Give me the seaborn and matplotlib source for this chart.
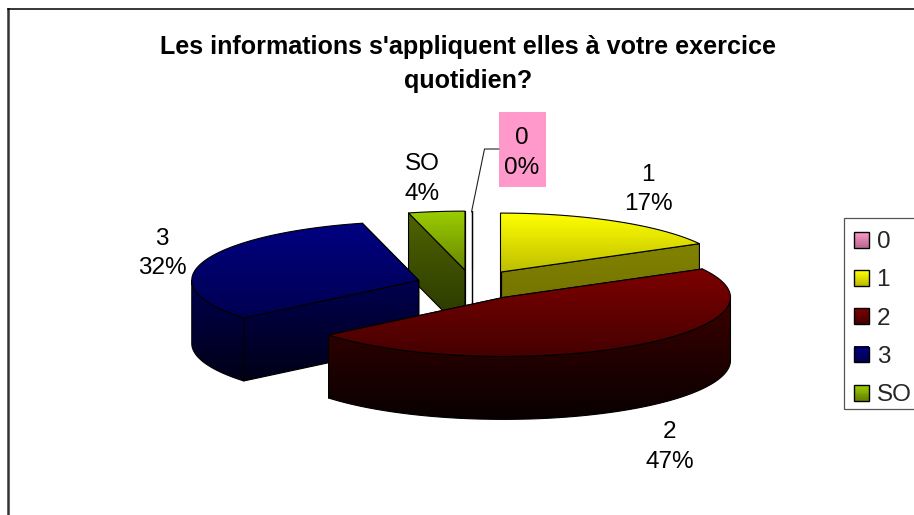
import numpy as np
import matplotlib
matplotlib.use("Agg")
import matplotlib.pyplot as plt
import seaborn as sns
from matplotlib.patches import Polygon, Rectangle
from matplotlib.legend_handler import HandlerBase

# ---- data ----
categories = ["0", "1", "2", "3", "SO"]
percents = [0, 17, 47, 32, 4]
title = "Les informations s'appliquent elles à votre exercice\nquotidien?"

# ---- style ----
top_colors = {"0": ((255, 153, 204), (190, 110, 150)), "1": ((255, 255, 0), (190, 190, 0)),
              "2": ((125, 0, 0), (70, 0, 0)), "3": ((0, 0, 130), (0, 0, 80)),
              "SO": ((155, 205, 0), (105, 135, 0))}
side_colors = {"0": ((120, 70, 95), (60, 35, 48)), "1": ((130, 130, 0), (108, 108, 0)),
               "2": ((60, 0, 0), (8, 0, 0)), "3": ((0, 0, 80), (0, 0, 22)),
               "SO": ((80, 100, 0), (38, 52, 0))}
label_xy = {"0": (522, 153), "1": (648, 189.5), "2": (670, 447), "3": (162, 253.5), "SO": (422, 179)}
draw_order = ["SO", "0", "1", "3", "2"]

# ---- layout, in figure pixels ----
W, H = 914, 515
CX, CY, RX, RY, DEPTH = 472, 285, 227, 59, 63
EX, EY = 56, 15
EDGE = 0.8

sns.set_theme(style="white", palette=sns.color_palette([np.array(top_colors[c][0]) / 255 for c in categories]))
plt.rcParams["font.family"] = ["Liberation Sans", "DejaVu Sans"]

fig = plt.figure(figsize=(W / 100, H / 100), dpi=100, facecolor="white")
L, T = 8, 9
ax = fig.add_axes([L / W, 0, (W - L) / W, (H - T) / H])
ax.set_xlim(L, W)
ax.set_ylim(H, T)
ax.set_xticks([])
ax.set_yticks([])
sns.despine(ax=ax, right=True, bottom=True, top=False, left=False)
ax.spines["top"].set(color="black", linewidth=1.1)
ax.spines["left"].set(color="#333333", linewidth=1.8)


def gradient_fill(points, colors, z):
    pts = np.asarray(points, float)
    x0, x1 = pts[:, 0].min(), pts[:, 0].max()
    y0, y1 = pts[:, 1].min(), pts[:, 1].max()
    a, b = np.array(colors[0]) / 255, np.array(colors[1]) / 255
    t = np.linspace(0, 1, 128)[:, None, None]
    img = a[None, None, :] * (1 - t) + b[None, None, :] * t
    if x1 - x0 > 0.01:
        im = ax.imshow(img, extent=(x0, x1, y1, y0), aspect="auto", zorder=z, interpolation="bilinear")
        clip = Polygon(pts, closed=True, transform=ax.transData)
        im.set_clip_path(clip)
    ax.add_patch(Polygon(pts, closed=True, fill=False, edgecolor="black", linewidth=EDGE,
                         joinstyle="round", zorder=z + 0.1))


def arc(apex, a0, a1, dy=0):
    th = np.radians(np.linspace(a0, a1, max(int(abs(a1 - a0)) + 2, 2)))
    return np.column_stack([apex[0] + RX * np.sin(th), apex[1] - RY * np.cos(th) + dy])


# angles measured clockwise from the top
edges = np.concatenate([[0], np.cumsum(percents)]) * 3.6
spans = {c: (edges[i], edges[i + 1]) for i, c in enumerate(categories)}

z = 2
for cat in draw_order:
    a0, a1 = spans[cat]
    mid = np.radians((a0 + a1) / 2 if cat != "0" else 0)
    apex = np.array([CX + EX * np.sin(mid), CY - EY * np.cos(mid)])
    # cut faces
    for ang in (a1, a0):
        rim = arc(apex, ang, ang)[0]
        gradient_fill([apex, rim, rim + [0, DEPTH], apex + [0, DEPTH]], side_colors[cat], z)
        z += 1
    # outer wall, only the front half of the ellipse shows
    f0, f1 = max(a0, 90), min(a1, 270)
    if f1 > f0:
        wall = np.vstack([arc(apex, f0, f1), arc(apex, f1, f0, DEPTH)])
        gradient_fill(wall, side_colors[cat], z)
        z += 1
    # top face
    gradient_fill(np.vstack([[apex], arc(apex, a0, a1)]), top_colors[cat], z)
    z += 1

ax.set_xlim(L, W)
ax.set_ylim(H, T)

# title
ax.text(468.5, 64, title, ha="center", va="center", fontsize=18.1, fontweight="bold",
        color="black", linespacing=1.54, zorder=50)

# data labels
ax.add_patch(Rectangle((499, 112), 47, 75, facecolor="#ff99cc", edgecolor="none", zorder=49))
ax.plot([499, 484.5, 471.5], [149, 149, 212], color="#222222", lw=0.8, zorder=49)
for cat, pct in zip(categories, percents):
    x, y = label_xy[cat]
    ax.text(x, y, f"{cat}\n{pct}%", ha="center", va="center", fontsize=17.5, color="black",
            linespacing=1.47, zorder=50)


# legend with gradient swatches
class GradientHandler(HandlerBase):
    def __init__(self, colors):
        super().__init__()
        self.colors = colors

    def create_artists(self, legend, orig, xd, yd, w, h, fs, trans):
        a, b = np.array(self.colors[0]) / 255, np.array(self.colors[1]) / 255
        out = []
        n = 8
        for i in range(n):
            t = i / (n - 1)
            out.append(Rectangle((-xd, -yd + h * (n - 1 - i) / n), w, h / n + 0.2, facecolor=a * (1 - t) + b * t,
                                 edgecolor="none", transform=trans))
        out.append(Rectangle((-xd, -yd), w, h, fill=False, edgecolor="black", linewidth=1.0, transform=trans))
        return out


ax.add_patch(Rectangle((844, 218), 80, 191, facecolor="white", edgecolor="#555555", linewidth=0.9,
                       clip_on=True, zorder=59))
handles = [Rectangle((0, 0), 1, 1) for _ in categories]
leg = ax.legend(handles, categories, handler_map={h: GradientHandler(top_colors[c]) for h, c in zip(handles, categories)},
                loc="upper left", bbox_to_anchor=(844, 221), bbox_transform=ax.transData,
                borderaxespad=0, frameon=False,
                fontsize=17.5, labelspacing=0.67, handlelength=0.62, handleheight=0.62, handletextpad=0.3,
                borderpad=0.42)
leg.set_zorder(60)

fig.savefig("out.png", dpi=100, facecolor="white")
